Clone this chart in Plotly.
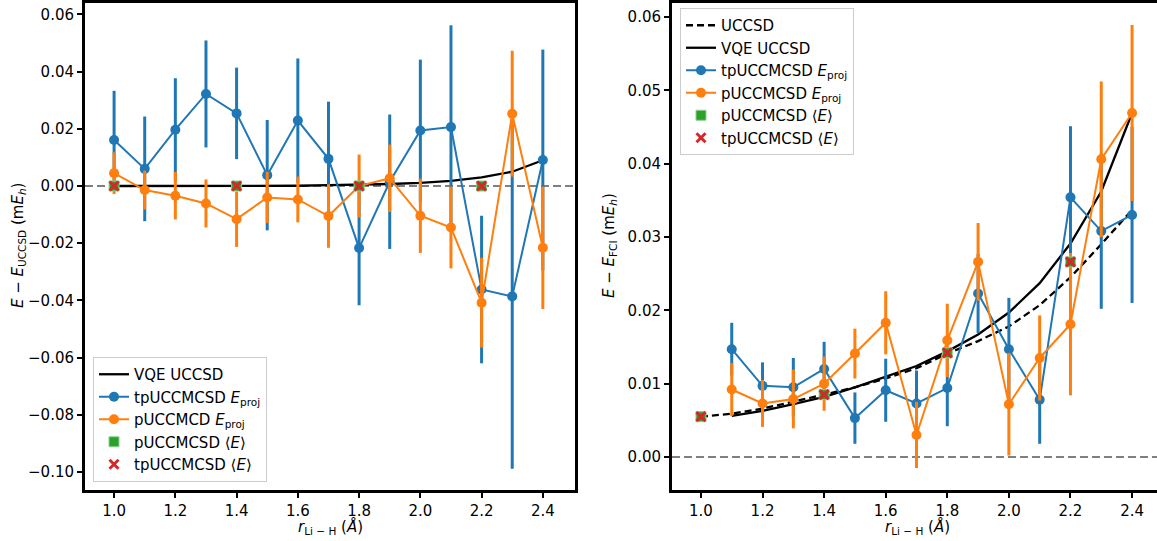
import plotly.graph_objects as go

# ---------------- data ----------------
r_all = [1.0, 1.1, 1.2, 1.3, 1.4, 1.5, 1.6, 1.7, 1.8, 1.9, 2.0, 2.1, 2.2, 2.3, 2.4]
r_tail = [1.1, 1.2, 1.3, 1.4, 1.5, 1.6, 1.7, 1.8, 1.9, 2.0, 2.1, 2.2, 2.3, 2.4]
r_expect = [1.0, 1.4, 1.8, 2.2]

# left panel: E - E_UCCSD
vqe_left = [0.0, 0.0, 0.0, 0.0, 0.0001, 0.0001, 0.0001, 0.0003, 0.0004, 0.0007,
            0.0011, 0.0018, 0.0030, 0.0050, 0.0090]
tp_left = [0.0161, 0.0060, 0.0197, 0.0322, 0.0254, 0.0038, 0.0229, 0.0095, -0.0217,
           0.0015, 0.0194, 0.0206, -0.0362, -0.0386, 0.0091]
tp_left_err = [0.0172, 0.0183, 0.0180, 0.0187, 0.0160, 0.0193, 0.0217, 0.0200, 0.0200,
               0.0235, 0.0248, 0.0356, 0.0258, 0.0603, 0.0386]
p_left = [0.0045, -0.0014, -0.0034, -0.0061, -0.0116, -0.0040, -0.0047, -0.0105, 0.0000,
          0.0027, -0.0104, -0.0145, -0.0408, 0.0253, -0.0216]
p_left_err = [0.0073, 0.0068, 0.0083, 0.0084, 0.0097, 0.0090, 0.0080, 0.0111, 0.0110,
              0.0118, 0.0130, 0.0143, 0.0157, 0.0220, 0.0214]
pexp_left = [0.0, 0.0, 0.0, 0.0]
tpexp_left = [0.0, 0.0, 0.0, 0.0]

# right panel: E - E_FCI
uccsd_right = [0.0055, 0.0059, 0.0066, 0.0075, 0.0085, 0.0095, 0.0107, 0.0121, 0.0141,
               0.0158, 0.0178, 0.0207, 0.0245, 0.0290, 0.0337]
vqe_right = [0.0056, 0.0063, 0.0072, 0.0082, 0.0095, 0.0109, 0.0124, 0.0144, 0.0167,
             0.0197, 0.0237, 0.0291, 0.0362, 0.0469]
tp_right = [0.0147, 0.0097, 0.0095, 0.0120, 0.0053, 0.0091, 0.0073, 0.0094, 0.0223,
            0.0147, 0.0078, 0.0354, 0.0308, 0.0330]
tp_right_err = [0.0036, 0.0032, 0.0040, 0.0037, 0.0035, 0.0043, 0.0045, 0.0052, 0.0054,
                0.0070, 0.0060, 0.0097, 0.0106, 0.0120]
p_right = [0.0092, 0.0073, 0.0079, 0.0100, 0.0141, 0.0183, 0.0030, 0.0159, 0.0266,
           0.0072, 0.0135, 0.0181, 0.0406, 0.0469]
p_right_err = [0.0036, 0.0032, 0.0040, 0.0037, 0.0034, 0.0043, 0.0045, 0.0050, 0.0053,
               0.0070, 0.0058, 0.0097, 0.0106, 0.0120]
pexp_right = [0.0055, 0.0085, 0.0142, 0.0266]
tpexp_right = [0.0055, 0.0085, 0.0142, 0.0266]

# ---------------- style ----------------
BLUE, ORANGE, GREEN, RED = "#1f77b4", "#ff7f0e", "#2ca02c", "#d62728"
FONT = "DejaVu Sans"
FS = 15
W, H = 1157, 541

fig = go.Figure()


def err_trace(x, y, e, color, name, xa, ya, leg):
    return go.Scatter(
        x=x, y=y, mode="lines+markers", name=name,
        line=dict(color=color, width=2),
        marker=dict(color=color, size=10),
        error_y=dict(type="data", array=e, visible=True, thickness=3, width=0, color=color),
        xaxis=xa, yaxis=ya, legend=leg,
    )


def green_trace(x, y, name, xa, ya, leg):
    return go.Scatter(
        x=x, y=y, mode="markers", name=name,
        marker=dict(symbol="square", size=10, color=GREEN, line=dict(width=1, color="#8fd08f")),
        xaxis=xa, yaxis=ya, legend=leg,
    )


def red_trace(x, y, name, xa, ya, leg):
    return go.Scatter(
        x=x, y=y, mode="markers", name=name,
        marker=dict(symbol="x-thin", size=9, color=RED, line=dict(width=3, color=RED)),
        xaxis=xa, yaxis=ya, legend=leg,
    )


# left panel
fig.add_trace(go.Scatter(x=r_all, y=vqe_left, mode="lines", name="VQE UCCSD",
                         line=dict(color="black", width=2.3), xaxis="x", yaxis="y", legend="legend"))
fig.add_trace(err_trace(r_all, tp_left, tp_left_err, BLUE,
                        "tpUCCMCSD <i>E</i><sub>proj</sub>", "x", "y", "legend"))
fig.add_trace(err_trace(r_all, p_left, p_left_err, ORANGE,
                        "pUCCMCD <i>E</i><sub>proj</sub>", "x", "y", "legend"))
fig.add_trace(green_trace(r_expect, pexp_left, "pUCCMCSD ⟨<i>E</i>⟩", "x", "y", "legend"))
fig.add_trace(red_trace(r_expect, tpexp_left, "tpUCCMCSD ⟨<i>E</i>⟩", "x", "y", "legend"))

# right panel
fig.add_trace(go.Scatter(x=r_all, y=uccsd_right, mode="lines", name="UCCSD",
                         line=dict(color="black", width=2.3, dash="7px,4px"),
                         xaxis="x2", yaxis="y2", legend="legend2"))
fig.add_trace(go.Scatter(x=r_tail, y=vqe_right, mode="lines", name="VQE UCCSD",
                         line=dict(color="black", width=2.3), xaxis="x2", yaxis="y2", legend="legend2"))
fig.add_trace(err_trace(r_tail, tp_right, tp_right_err, BLUE,
                        "tpUCCMCSD <i>E</i><sub>proj</sub>", "x2", "y2", "legend2"))
fig.add_trace(err_trace(r_tail, p_right, p_right_err, ORANGE,
                        "pUCCMCSD <i>E</i><sub>proj</sub>", "x2", "y2", "legend2"))
fig.add_trace(green_trace(r_expect, pexp_right, "pUCCMCSD ⟨<i>E</i>⟩", "x2", "y2", "legend2"))
fig.add_trace(red_trace(r_expect, tpexp_right, "tpUCCMCSD ⟨<i>E</i>⟩", "x2", "y2", "legend2"))

# zero reference lines
for xr, yr in (("x domain", "y"), ("x2 domain", "y2")):
    fig.add_shape(type="line", xref=xr, x0=0, x1=1, yref=yr, y0=0, y1=0,
                  line=dict(color="grey", width=2, dash="8px,4px"), layer="below")

ytop, ybot = 1 - 3 / H, 1 - 490 / H
axis_common = dict(showgrid=False, zeroline=False, showline=True, linecolor="black",
                   linewidth=3, ticks="outside", ticklen=5, tickwidth=1.5, tickcolor="black",
                   tickfont=dict(family=FONT, size=FS, color="black"))

legend_common = dict(xanchor="left", yanchor="top",
                     bgcolor="rgba(255,255,255,0.85)", bordercolor="#cccccc", borderwidth=1,
                     font=dict(family=FONT, size=FS, color="black"))

fig.update_layout(
    width=W, height=H,
    margin=dict(l=0, r=0, t=0, b=0),
    paper_bgcolor="white", plot_bgcolor="white",
    font=dict(family=FONT, size=FS, color="black"),
    xaxis=dict(domain=[85 / W, 575 / W], range=[0.905, 2.505], tick0=1.0, dtick=0.2,
               tickformat=".1f", mirror=True, anchor="y", **axis_common),
    yaxis=dict(domain=[ybot, ytop], range=[-0.1063, 0.0640], dtick=0.02, tickformat=".2f",
               mirror=True, anchor="x", **axis_common),
    xaxis2=dict(domain=[672 / W, 1.0], range=[0.906, 2.481], tick0=1.0, dtick=0.2,
                tickformat=".1f", mirror=True, anchor="y2", **axis_common),
    yaxis2=dict(domain=[ybot, ytop], range=[-0.0045, 0.0619], dtick=0.01, tickformat=".2f",
                mirror=False, anchor="x2", **axis_common),
    legend=dict(x=93 / W, y=1 - 357 / H, **legend_common),
    legend2=dict(x=680 / W, y=1 - 8 / H, **legend_common),
    showlegend=True,
)

# axis titles as annotations
ymid = 1 - 246 / H
ann_font = dict(family=FONT, size=FS, color="black")
fig.add_annotation(text="<i>E</i> − <i>E</i><sub>UCCSD</sub> (m<i>E</i><sub><i>h</i></sub>)",
                   xref="paper", yref="paper", x=18 / W, y=ymid, textangle=-90,
                   xanchor="center", yanchor="middle", showarrow=False, font=ann_font)
fig.add_annotation(text="<i>E</i> − <i>E</i><sub>FCI</sub> (m<i>E</i><sub><i>h</i></sub>)",
                   xref="paper", yref="paper", x=609 / W, y=ymid, textangle=-90,
                   xanchor="center", yanchor="middle", showarrow=False, font=ann_font)
fig.add_annotation(text="<i>r</i><sub>Li − H</sub> (<i>Å</i>)",
                   xref="paper", yref="paper", x=330 / W, y=1 - 527 / H,
                   xanchor="center", yanchor="middle", showarrow=False, font=ann_font)
fig.add_annotation(text="<i>r</i><sub>Li − H</sub> (<i>Å</i>)",
                   xref="paper", yref="paper", x=917 / W, y=1 - 527 / H,
                   xanchor="center", yanchor="middle", showarrow=False, font=ann_font)

fig.write_html("out.html")
